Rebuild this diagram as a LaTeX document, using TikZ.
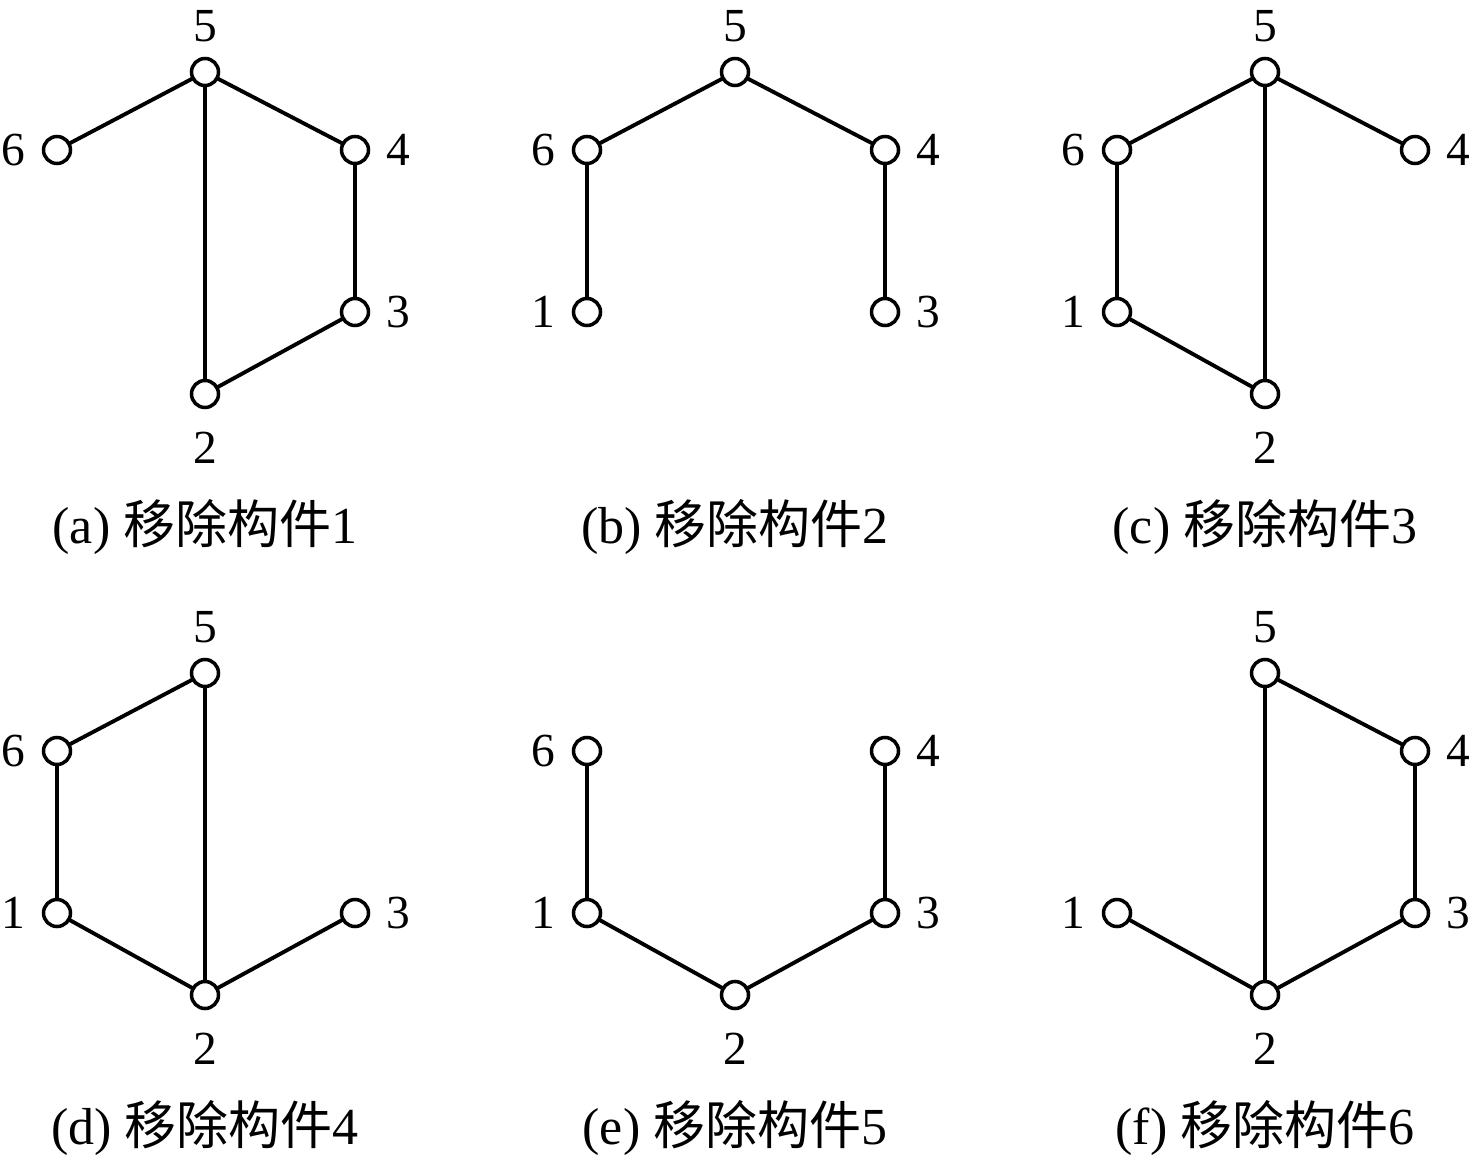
\documentclass[tikz,border=0pt]{standalone}
\usepackage{fontspec}
\setmainfont{Liberation Serif}
\newfontfamily\cjk{Noto Sans CJK SC}
\usepackage{tikz}

\tikzset{
  vtx/.style={circle,draw,line width=1pt,fill=white,minimum size=0.27cm,inner sep=0pt},
  link/.style={line width=1.1pt},
  every label/.style={inner sep=0pt,font=\fontsize{13.5}{15}\selectfont},
  slot5/.style={at={(0,0)}},
  slot6/.style={at={(-1.48,-0.78)}},
  slot4/.style={at={(1.50,-0.78)}},
  slot1/.style={at={(-1.48,-2.40)}},
  slot3/.style={at={(1.50,-2.40)}},
  slot2/.style={at={(0,-3.22)}},
  tag5/.style={label={[label distance=0.14cm]above:5}},
  tag6/.style={label={[label distance=0.16cm]left:6}},
  tag4/.style={label={[label distance=0.16cm]right:4}},
  tag1/.style={label={[label distance=0.16cm]left:1}},
  tag3/.style={label={[label distance=0.16cm]right:3}},
  tag2/.style={label={[label distance=0.22cm]below:2}},
  caption/.style={font=\fontsize{14.8}{17}\selectfont,inner sep=0pt}
}

\begin{document}
\begin{tikzpicture}
\useasboundingbox (0,0) rectangle (14.76,-11.61);
% one panel per removed member
\foreach \p/\px/\py/\keep/\links/\gone in {
    a/2.05/-0.72/{2,3,4,5,6}/{6/5,5/4,5/2,4/3,3/2}/1,
    b/7.35/-0.72/{1,3,4,5,6}/{6/5,5/4,6/1,4/3}/2,
    c/12.65/-0.72/{1,2,4,5,6}/{6/5,5/4,5/2,6/1,1/2}/3,
    d/2.05/-6.73/{1,2,3,5,6}/{6/5,5/2,6/1,1/2,2/3}/4,
    e/7.35/-6.73/{1,2,3,4,6}/{6/1,4/3,1/2,2/3}/5,
    f/12.65/-6.73/{1,2,3,4,5}/{5/4,5/2,4/3,3/2,1/2}/6} {
  \begin{scope}[shift={(\px,\py)}]
    % edges first, vertices on top
    \foreach \n in \keep {
      \coordinate[slot\n] (\p\n c);
    }
    \foreach \u/\v in \links {
      \draw[link] (\p\u c) -- (\p\v c);
    }
    \foreach \n in \keep {
      \node[vtx,slot\n,tag\n] (\p\n) {};
    }
    \node[caption] (cap\p) at (0,-4.55) {(\p) {\cjk 移除构件}\gone};
  \end{scope}
}
\end{tikzpicture}
\end{document}
